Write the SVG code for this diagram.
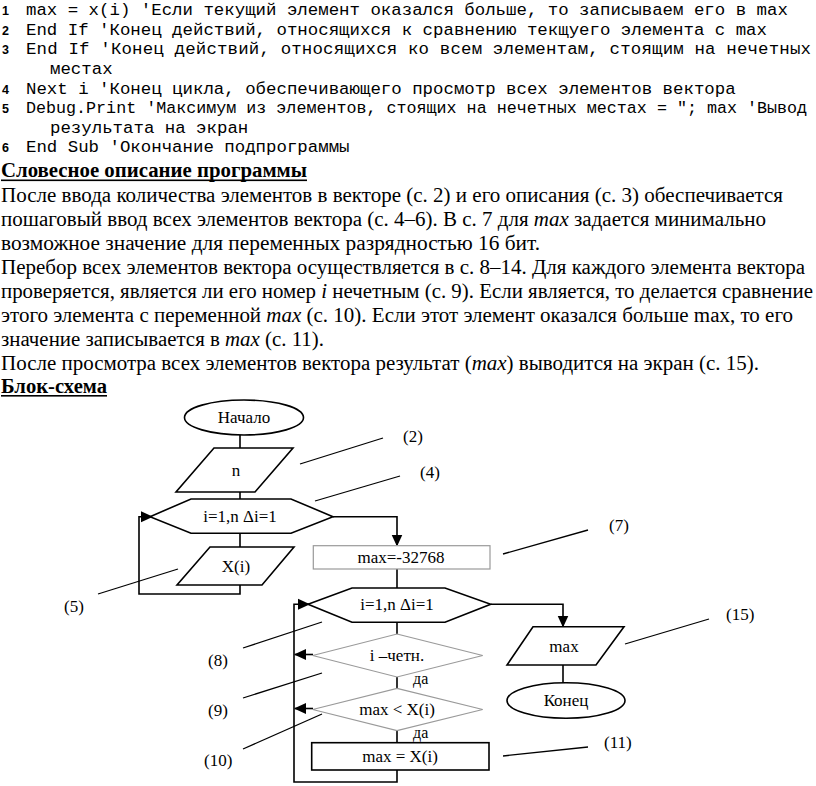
<svg xmlns="http://www.w3.org/2000/svg" width="816" height="786" viewBox="0 0 816 786">
<style>
.num{font-family:"Liberation Sans",Arial,sans-serif;font-weight:bold;font-size:12.5px;fill:#000}
.code{font-family:"Liberation Mono","Courier New",monospace;font-size:17.4px;fill:#000}
.txt{font-family:"Liberation Serif","Times New Roman",serif;font-size:20.5px;fill:#000}
.hd{font-family:"Liberation Serif","Times New Roman",serif;font-size:20.5px;font-weight:bold;fill:#000}
.it{font-style:italic}
.fl{font-family:"Liberation Serif","Times New Roman",serif;font-size:17px;fill:#000;text-anchor:middle}
.lb{font-family:"Liberation Serif","Times New Roman",serif;font-size:17px;fill:#000}
.da{font-family:"Liberation Serif","Times New Roman",serif;font-size:16px;fill:#000}
.blk{fill:#fff;stroke:#000;stroke-width:1.6}
.gry{fill:#fff;stroke:#9a9a9a;stroke-width:1.2}
.con{fill:none;stroke:#000;stroke-width:1.6}
.call{fill:none;stroke:#000;stroke-width:1.3}
</style>
<defs>
<marker id="ah" markerUnits="userSpaceOnUse" markerWidth="12" markerHeight="12" viewBox="0 0 12 12" refX="11" refY="6" orient="auto">
<path d="M0,0.5 L12,6 L0,11.5 Z" fill="#000"/>
</marker>
</defs>
<rect width="816" height="786" fill="#fff"/>

<g id="code">
<text class="num" x="2" y="15">1</text>
<text class="code" x="26" y="15">max = x(i) 'Если текущий элемент оказался больше, то записываем его в max</text>
<text class="num" x="2" y="35">2</text>
<text class="code" x="26" y="35">End If 'Конец действий, относящихся к сравнению текщуего элемента с max</text>
<text class="num" x="2" y="54">3</text>
<text class="code" x="26" y="54" textLength="785" lengthAdjust="spacing">End If 'Конец действий, относящихся ко всем элементам, стоящим на нечетных</text>
<text class="code" x="50" y="74">местах</text>
<text class="num" x="2" y="94">4</text>
<text class="code" x="26" y="94">Next i 'Конец цикла, обеспечивающего просмотр всех элементов вектора</text>
<text class="num" x="2" y="113">5</text>
<text class="code" x="26" y="113" style="font-size:16.7px">Debug.Print 'Максимум из элементов, стоящих на нечетных местах = "; max 'Вывод</text>
<text class="code" x="50" y="133">результата на экран</text>
<text class="num" x="2" y="152">6</text>
<text class="code" x="26" y="152">End Sub 'Окончание подпрограммы</text>
</g>

<g id="description">
<text class="hd" x="1" y="177" textLength="306" lengthAdjust="spacingAndGlyphs">Словесное описание программы</text>
<rect x="1" y="179.5" width="306" height="1.6" fill="#000"/>
<text class="txt" x="1" y="202" textLength="782" lengthAdjust="spacingAndGlyphs">После ввода количества элементов в векторе (с. 2) и его описания (с. 3) обеспечивается</text>
<text class="txt" x="1" y="226" textLength="765" lengthAdjust="spacingAndGlyphs">пошаговый ввод всех элементов вектора (с. 4–6). В с. 7 для <tspan class="it">max</tspan> задается минимально</text>
<text class="txt" x="1" y="250" textLength="539" lengthAdjust="spacingAndGlyphs">возможное значение для переменных разрядностью 16 бит.</text>
<text class="txt" x="1" y="274" textLength="804" lengthAdjust="spacingAndGlyphs">Перебор всех элементов вектора осуществляется в с. 8–14. Для каждого элемента вектора</text>
<text class="txt" x="1" y="298" textLength="812" lengthAdjust="spacingAndGlyphs">проверяется, является ли его номер <tspan class="it">i</tspan> нечетным (с. 9). Если является, то делается сравнение</text>
<text class="txt" x="1" y="322" textLength="792" lengthAdjust="spacingAndGlyphs">этого элемента с переменной <tspan class="it">max</tspan> (с. 10). Если этот элемент оказался больше max, то его</text>
<text class="txt" x="1" y="346" textLength="323" lengthAdjust="spacingAndGlyphs">значение записывается в <tspan class="it">max</tspan> (с. 11).</text>
<text class="txt" x="1" y="370" textLength="758" lengthAdjust="spacingAndGlyphs">После просмотра всех элементов вектора результат (<tspan class="it">max</tspan>) выводится на экран (с. 15).</text>
<text class="hd" x="1" y="393" textLength="106" lengthAdjust="spacingAndGlyphs">Блок-схема</text>
<rect x="1" y="395" width="106" height="1.6" fill="#000"/>
</g>

<g id="connectors">
<path class="con" d="M240,435 V448"/>
<path class="con" d="M240,492 V499"/>
<path class="con" d="M240,533 V547"/>
<path class="con" d="M240,585 V594 H139 V516.7 H152" marker-end="url(#ah)"/>
<path class="con" d="M333,516.7 H397 V545.5" marker-end="url(#ah)"/>
<path class="con" d="M397,569 V588"/>
<path class="con" d="M397,622 V634"/>
<path class="con" d="M397,677 V688"/>
<path class="con" d="M397,731 V743"/>
<path class="con" d="M397,770 V782 H294 V604.3 H309" marker-end="url(#ah)"/>
<path class="con" d="M313,654.5 H295" marker-end="url(#ah)"/>
<path class="con" d="M313,708.5 H295" marker-end="url(#ah)"/>
<path class="con" d="M490.7,604.3 H563 V626.5" marker-end="url(#ah)"/>
<path class="con" d="M563,665 V683"/>
</g>

<g id="callouts">
<path class="call" d="M300,464 L383,438"/>
<text class="lb" x="403" y="442">(2)</text>
<path class="call" d="M315,501 L400,476"/>
<text class="lb" x="420" y="478">(4)</text>
<path class="call" d="M503,554 L588,530"/>
<text class="lb" x="609" y="531">(7)</text>
<path class="call" d="M98,594 L178,569"/>
<text class="lb" x="64" y="612">(5)</text>
<path class="call" d="M625,644 L709,619"/>
<text class="lb" x="726" y="620">(15)</text>
<path class="call" d="M243,648 L322,622"/>
<text class="lb" x="208" y="666">(8)</text>
<path class="call" d="M243,698 L322,673"/>
<text class="lb" x="208" y="716">(9)</text>
<path class="call" d="M243,749 L322,714"/>
<text class="lb" x="204" y="766">(10)</text>
<path class="call" d="M503,756 L588,747"/>
<text class="lb" x="604" y="748">(11)</text>
</g>

<g id="start">
<ellipse class="blk" cx="244" cy="417.5" rx="59.5" ry="17.5"/>
<text class="fl" x="244" y="423">Начало</text>
</g>
<g id="input-n">
<polygon class="blk" points="214,448 293,448 255,492 176,492"/>
<text class="fl" x="236" y="476">n</text>
</g>
<g id="loop1">
<polygon class="blk" points="150,516.7 191,499 291,499 333,516.7 291,533.3 191,533.3"/>
<text class="fl" x="240" y="522">i=1,n Δi=1</text>
</g>
<g id="input-x">
<polygon class="blk" points="210,547 294,547 262,585 177,585"/>
<text class="fl" x="236" y="572">X(i)</text>
</g>
<g id="init-max">
<rect class="gry" x="313.3" y="545.7" width="176.7" height="23.3"/>
<text class="fl" x="401" y="563">max=-32768</text>
</g>
<g id="loop2">
<polygon class="blk" points="308,604.3 352,588 445,588 490.7,604.3 445,622.3 352,622.3"/>
<text class="fl" x="397" y="610">i=1,n Δi=1</text>
</g>
<g id="cond-even">
<polygon class="gry" points="397,634 482.7,655.5 397,677 312.7,655.5"/>
<text class="fl" x="397" y="661">i –четн.</text>
<text class="da" x="413" y="684">да</text>
</g>
<g id="cond-max">
<polygon class="gry" points="397,688.3 482.7,709.5 397,730.7 312.7,709.5"/>
<text class="fl" x="397" y="715">max &lt; X(i)</text>
<text class="da" x="413" y="738">да</text>
</g>
<g id="assign-max">
<rect class="blk" x="311.7" y="742.7" width="177.3" height="27.3"/>
<text class="fl" x="400" y="762">max = X(i)</text>
</g>
<g id="output-max">
<polygon class="blk" points="533,626.7 624,626.7 596,665 507,665"/>
<text class="fl" x="564" y="652">max</text>
</g>
<g id="end">
<ellipse class="blk" cx="566" cy="700.5" rx="59" ry="17.8"/>
<text class="fl" x="566" y="706">Конец</text>
</g>
</svg>
